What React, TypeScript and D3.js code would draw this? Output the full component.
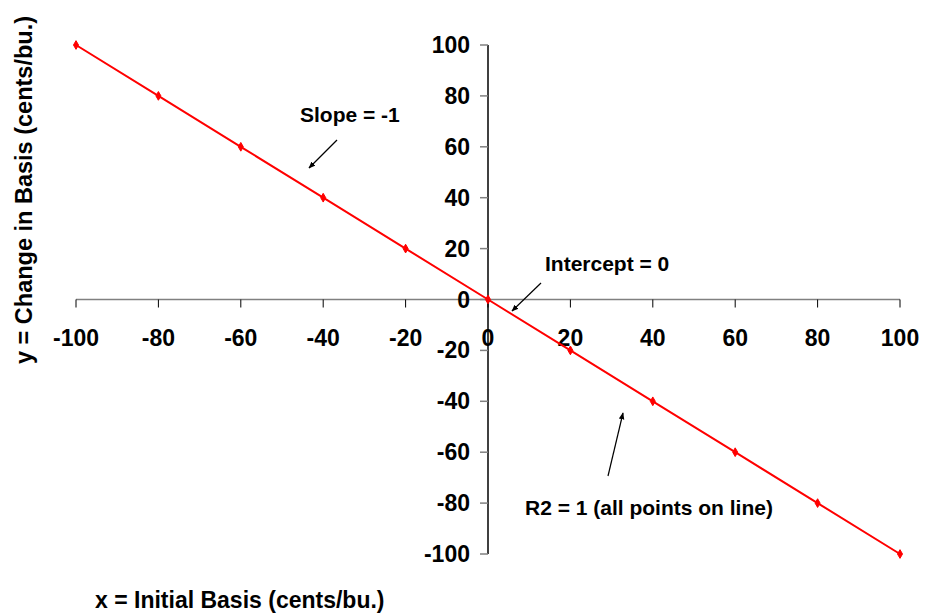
import React from "react";
import * as d3 from "d3";

const xValues = [-100, -80, -60, -40, -20, 0, 20, 40, 60, 80, 100];
const yValues = [100, 80, 60, 40, 20, 0, -20, -40, -60, -80, -100];
const xTicks = [-100, -80, -60, -40, -20, 0, 20, 40, 60, 80, 100];
const yTicks = [100, 80, 60, 40, 20, 0, -20, -40, -60, -80, -100];
const xTitle = "x = Initial Basis (cents/bu.)";
const yTitle = "y = Change in Basis (cents/bu.)";
const annotations = [
  { text: "Slope = -1", tx: 300, ty: 122, x1: 337, y1: 140, x2: 309, y2: 168 },
  { text: "Intercept = 0", tx: 545, ty: 271, x1: 541, y1: 283, x2: 512, y2: 311 },
  { text: "R2 = 1 (all points on line)", tx: 525, ty: 515, x1: 608, y1: 476, x2: 623, y2: 413 },
];

const W = 925;
const H = 616;
const FONT = "'Liberation Sans', Arial, Helvetica, sans-serif";

export default function App() {
  const x = d3.scaleLinear().domain([-100, 100]).range([76, 900]);
  const y = d3.scaleLinear().domain([-100, 100]).range([554, 45]);
  const pts = xValues.map((v, i) => [v, yValues[i]] as [number, number]);
  const line = d3
    .line<[number, number]>()
    .x((d) => x(d[0]))
    .y((d) => y(d[1]));
  const diamond = d3.symbol().type(d3.symbolDiamond).size(22)() as string;
  const x0 = x(0);
  const y0 = y(0);

  return (
    <svg
      width={W}
      height={H}
      style={{ position: "absolute", left: 0, top: 0, background: "#fff" }}
      fontFamily={FONT}
    >
      <defs>
        <marker
          id="arr"
          viewBox="0 0 10 10"
          refX="9"
          refY="5"
          markerWidth="7"
          markerHeight="7"
          orient="auto"
          markerUnits="userSpaceOnUse"
        >
          <path d="M0,1 L10,5 L0,9 Z" fill="#000" />
        </marker>
      </defs>
      <rect x={0} y={0} width={W} height={H} fill="#fff" />
      {/* x axis */}
      <line x1={x(-100)} x2={x(100)} y1={y0} y2={y0} stroke="#808080" strokeWidth={1.5} />
      {xTicks.map((t) => (
        <g key={"xt" + t}>
          <line x1={x(t)} x2={x(t)} y1={y0} y2={y0 + 8} stroke="#000" strokeWidth={1} />
          <text
            x={x(t)}
            y={346}
            textAnchor="middle"
            fontSize={23}
            fontWeight="bold"
            fill="#000"
          >
            {t}
          </text>
        </g>
      ))}
      {/* y axis */}
      <line x1={x0} x2={x0} y1={y(100)} y2={y(-100)} stroke="#000" strokeWidth={1.5} />
      {yTicks.map((t) => (
        <g key={"yt" + t}>
          <line x1={x0 - 8} x2={x0} y1={y(t)} y2={y(t)} stroke="#808080" strokeWidth={1.5} />
          <text
            x={470}
            y={y(t) + 8}
            textAnchor="end"
            fontSize={23}
            fontWeight="bold"
            fill="#000"
          >
            {t}
          </text>
        </g>
      ))}
      {/* series */}
      <path d={line(pts) as string} fill="none" stroke="#ff0000" strokeWidth={2} />
      {pts.map((p, i) => (
        <path
          key={"m" + i}
          d={diamond}
          transform={`translate(${x(p[0])},${y(p[1])})`}
          fill="#ff0000"
          stroke="#ff0000"
          strokeWidth={1}
        />
      ))}
      {/* annotations */}
      {annotations.map((a, i) => (
        <g key={"a" + i}>
          <text x={a.tx} y={a.ty} fontSize={21} fontWeight="bold" fill="#000">
            {a.text}
          </text>
          <line
            x1={a.x1}
            y1={a.y1}
            x2={a.x2}
            y2={a.y2}
            stroke="#000"
            strokeWidth={1.2}
            markerEnd="url(#arr)"
          />
        </g>
      ))}
      {/* titles */}
      <text x={95} y={608} fontSize={23} fontWeight="bold" fill="#000">
        {xTitle}
      </text>
      <text
        transform={`translate(32,190) rotate(-90)`}
        textAnchor="middle"
        fontSize={23.5}
        fontWeight="bold"
        fill="#000"
      >
        {yTitle}
      </text>
    </svg>
  );
}
